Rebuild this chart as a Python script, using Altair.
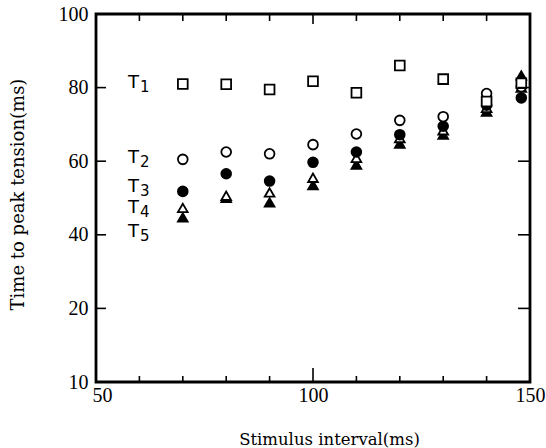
import altair as alt
import pandas as pd

# ---- data ----
intervals = [70, 80, 90, 100, 110, 120, 130, 140, 148]
t1 = [81.0, 80.9, 79.5, 81.7, 78.6, 86.0, 82.3, 76.2, 81.2]
t2 = [60.5, 62.5, 62.0, 64.5, 67.4, 71.1, 72.1, 78.4, 80.2]
t3 = [51.8, 56.6, 54.6, 59.7, 62.5, 67.2, 69.5, 75.2, 77.2]
t4 = [47.3, 50.6, 51.5, 55.5, 60.9, 66.3, 68.4, 74.5, 80.0]
t5 = [44.7, 50.0, 48.8, 53.5, 59.1, 64.8, 67.2, 73.5, 83.3]
series_names = ["T1", "T2", "T3", "T4", "T5"]
label_letter = "T"
label_sub = ["1", "2", "3", "4", "5"]
label_y = [79.9, 59.5, 51.6, 45.9, 39.4]
label_x = 57.4

x_ticks = [60, 70, 80, 90, 100, 110, 120, 130, 140]
y_ticks = [20, 40, 60, 80]

# ---- build tables ----
rows = []
order = {"T5": 0, "T4": 1, "T3": 2, "T2": 3, "T1": 4}
for name, vals in zip(series_names, [t1, t2, t3, t4, t5]):
    for xv, yv in zip(intervals, vals):
        rows.append({"interval": xv, "ttp": yv, "series": name, "ord": order[name]})
df = pd.DataFrame(rows)
labels_df = pd.DataFrame({"x": [label_x] * 5, "y": label_y,
                          "letter": [label_letter] * 5, "sub": label_sub})

W, H = 434, 368
XMIN, XMAX, YMIN, YMAX = 50, 150, 0, 100
ux = W / (XMAX - XMIN)   # px per x unit
uy = H / (YMAX - YMIN)   # px per y unit

xscale = alt.Scale(domain=[XMIN, XMAX], nice=False, zero=False)
yscale = alt.Scale(domain=[YMIN, YMAX], nice=False, zero=False)

SERIF = "Liberation Serif"
TSERIF = "DejaVu Serif"

xaxis = alt.Axis(
    values=[50, 100, 150], grid=False, ticks=False, domain=False, labelFlush=False,
    labelFont=SERIF, labelFontSize=20, labelColor="black", labelPadding=3,
    labelOffset={"condition": {"test": "datum.value == 50", "value": 6}, "value": 0},
    title="Stimulus interval(ms)", titleFont=TSERIF, titleFontSize=16.5,
    titleFontWeight="normal", titleColor="black",
    titleX=233, titleY=62, titleBaseline="alphabetic", titleAlign="center",
)
yaxis = alt.Axis(
    values=[0, 20, 40, 60, 80, 100], grid=False, ticks=False, domain=False, labelFlush=False,
    labelFont=SERIF, labelFontSize=20, labelColor="black", labelPadding=8,
    labelExpr="datum.value == 0 ? '10' : datum.label",
    title="Time to peak tension(ms)", titleFont=TSERIF, titleFontSize=18,
    titleFontWeight="normal", titleColor="black",
    titleX=-78, titleY=180, titleBaseline="middle", titleAngle=-90, titleAlign="center",
)

points = alt.Chart(df).mark_point(size=95, strokeWidth=1.8, opacity=1, filled=False).encode(
    x=alt.X("interval:Q", scale=xscale, axis=xaxis),
    y=alt.Y("ttp:Q", scale=yscale, axis=yaxis),
    shape=alt.Shape("series:N", scale=alt.Scale(
        domain=series_names,
        range=["square", "circle", "circle", "triangle-up", "triangle-up"]), legend=None),
    fill=alt.Fill("series:N", scale=alt.Scale(
        domain=series_names,
        range=["white", "white", "black", "white", "black"]), legend=None),
    stroke=alt.value("black"),
    order=alt.Order("ord:Q"),
)

letters = alt.Chart(labels_df).mark_text(
    align="left", baseline="alphabetic", font="DejaVu Sans", fontSize=18, color="black"
).encode(
    x=alt.X("x:Q", scale=xscale), y=alt.Y("y:Q", scale=yscale), text="letter:N"
)
subs = alt.Chart(labels_df).mark_text(
    align="left", baseline="alphabetic", font="DejaVu Sans", fontSize=15, color="black",
    dx=12, dy=4
).encode(
    x=alt.X("x:Q", scale=xscale), y=alt.Y("y:Q", scale=yscale), text="sub:N"
)

# inward tick marks (built from the tick values through the scales)
bt = pd.DataFrame({"v": x_ticks})
bt["len_b"] = [14 / uy if v == 100 else 6 / uy for v in x_ticks]
bt["len_t"] = [10 / uy if v == 100 else 7 / uy for v in x_ticks]
bt["y0"] = YMIN
bt["y1"] = YMIN + bt["len_b"]
bt["y2"] = YMAX
bt["y3"] = YMAX - bt["len_t"]
lt = pd.DataFrame({"v": y_ticks})
lt["x0"] = XMIN
lt["x1"] = XMIN + 10 / ux
lt["x2"] = XMAX
lt["x3"] = XMAX - 12 / ux

tick_style = dict(color="black", strokeWidth=1.6)
bottom_ticks = alt.Chart(bt).mark_rule(**tick_style).encode(
    x=alt.X("v:Q", scale=xscale), y=alt.Y("y0:Q", scale=yscale), y2="y1:Q")
top_ticks = alt.Chart(bt).mark_rule(**tick_style).encode(
    x=alt.X("v:Q", scale=xscale), y=alt.Y("y2:Q", scale=yscale), y2="y3:Q")
left_ticks = alt.Chart(lt).mark_rule(**tick_style).encode(
    y=alt.Y("v:Q", scale=yscale), x=alt.X("x0:Q", scale=xscale), x2="x1:Q")
right_ticks = alt.Chart(lt).mark_rule(**tick_style).encode(
    y=alt.Y("v:Q", scale=yscale), x=alt.X("x2:Q", scale=xscale), x2="x3:Q")

chart = alt.layer(
    points, letters, subs, bottom_ticks, top_ticks, left_ticks, right_ticks
).properties(
    width=W, height=H,
    background="white",
    autosize=alt.AutoSizeParams(type="none"),
    padding={"left": 96, "top": 14, "right": 16, "bottom": 66},
).configure_view(
    stroke="black", strokeWidth=2.8
)

chart.save("out.html", embed_options={"renderer": "svg", "actions": False})
